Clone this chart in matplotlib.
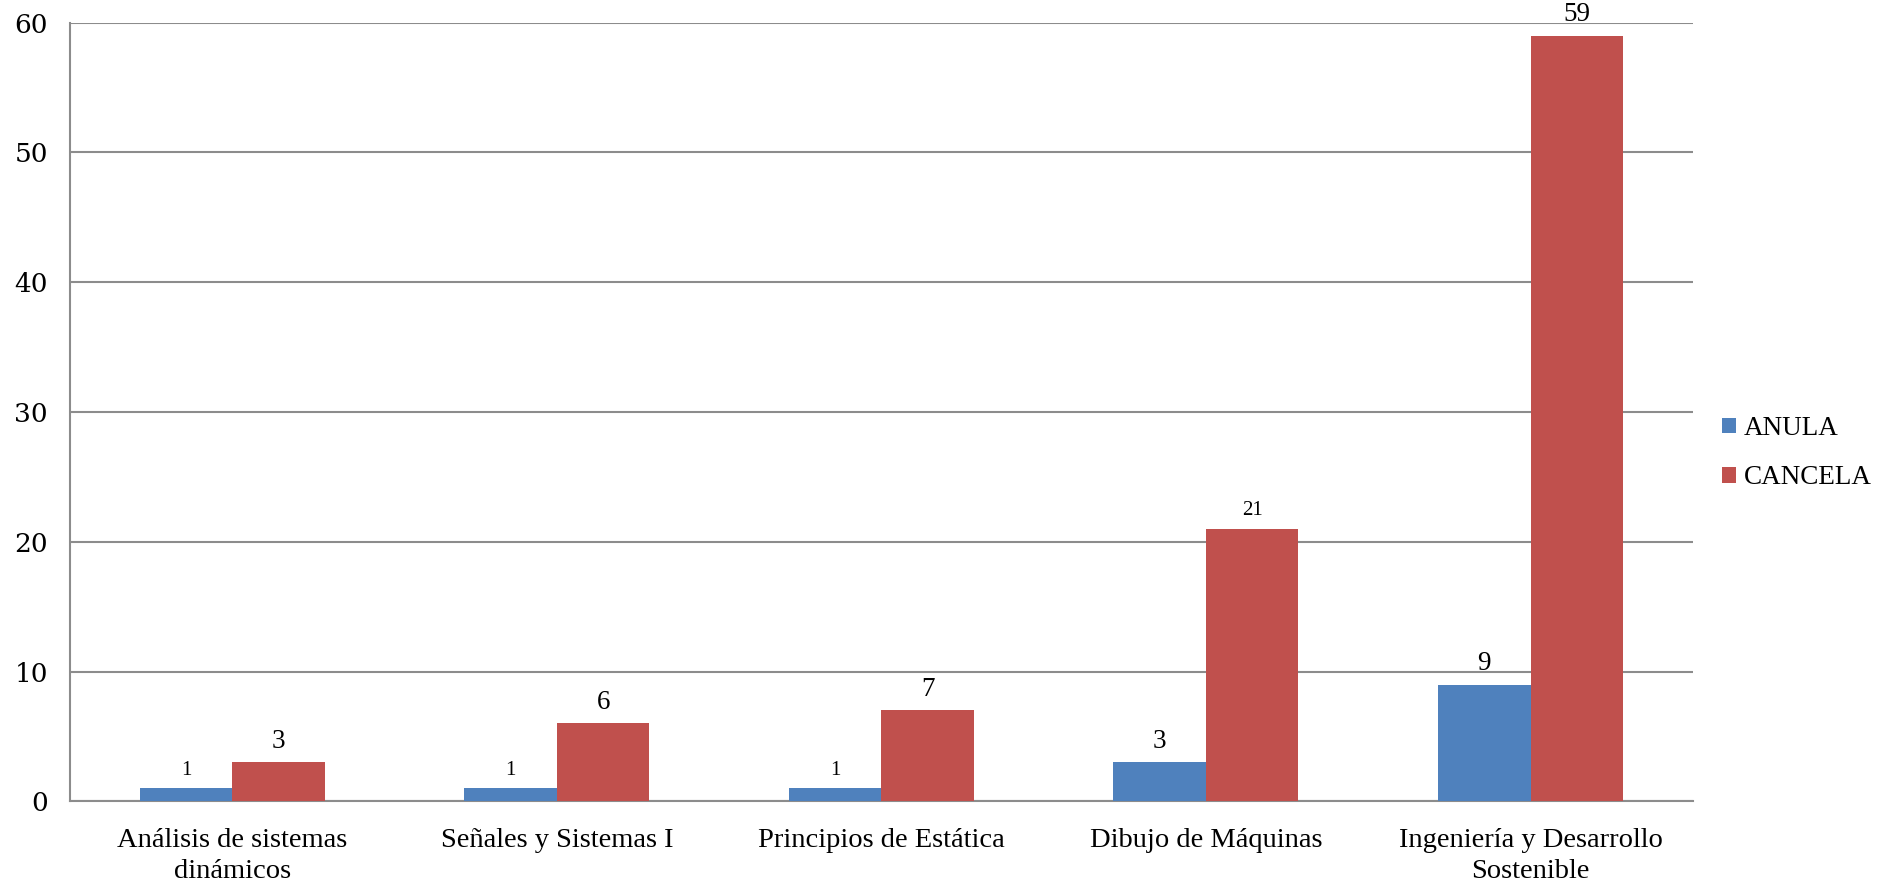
import numpy as np
import matplotlib.pyplot as plt

categories = ['Análisis de sistemas\ndinámicos', 'Señales y Sistemas I',
              'Principios de Estática', 'Dibujo de Máquinas',
              'Ingeniería y Desarrollo\nSostenible']
anula = [1, 1, 1, 3, 9]
cancela = [3, 6, 7, 21, 59]
# font size of each data label as it appears in the picture
anula_label_size = [15, 15, 15, 19.5, 19.5]
cancela_label_size = [19.5, 19.5, 19.5, 15, 19.5]

blue = '#4F81BD'
red = '#C0504D'
serif = 'Liberation Serif'

fig = plt.figure(figsize=(18.83, 8.84), dpi=100)
ax = fig.add_axes([0.0372, 0.0935, 0.8618, 0.881])

x = np.arange(len(categories))
w = 0.285
b1 = ax.bar(x - w/2, anula, w, color=blue, label='ANULA', zorder=3)
b2 = ax.bar(x + w/2, cancela, w, color=red, label='CANCELA', zorder=3)

for rect, v, fs in zip(b1, anula, anula_label_size):
    ax.annotate(str(v), (rect.get_x() + rect.get_width()/2, v),
                xytext=(0, 6), textcoords='offset points',
                ha='center', va='bottom', fontsize=fs, family=serif)
for rect, v, fs in zip(b2, cancela, cancela_label_size):
    ax.annotate(str(v), (rect.get_x() + rect.get_width()/2, v),
                xytext=(0, 6), textcoords='offset points',
                ha='center', va='bottom', fontsize=fs, family=serif)

ax.set_xlim(-0.5, len(categories) - 0.5)
ax.set_ylim(0, 60)
ax.set_yticks(range(0, 61, 10))
ax.set_xticks(x)
ax.set_xticklabels(categories, fontsize=20.5, family=serif, linespacing=1.35)
ax.tick_params(axis='y', labelsize=19, length=0, pad=16)
ax.tick_params(axis='x', length=0, pad=19)
for lbl in ax.get_yticklabels():
    lbl.set_family('DejaVu Serif')

ax.grid(axis='y', color='#8c8c8c', linewidth=1.5, zorder=0)
for side in ['top', 'right']:
    ax.spines[side].set_visible(False)
ax.spines['left'].set_color('#8c8c8c')
ax.spines['bottom'].set_color('#8c8c8c')
ax.spines['left'].set_linewidth(1.5)
ax.spines['bottom'].set_linewidth(1.5)

ax.legend(loc='center left', bbox_to_anchor=(1.003, 0.447), frameon=False,
          prop={'family': serif, 'size': 19.5}, handlelength=0.5,
          handleheight=0.5, handletextpad=0.3, labelspacing=0.9)

fig.savefig('out.png', dpi=100)
